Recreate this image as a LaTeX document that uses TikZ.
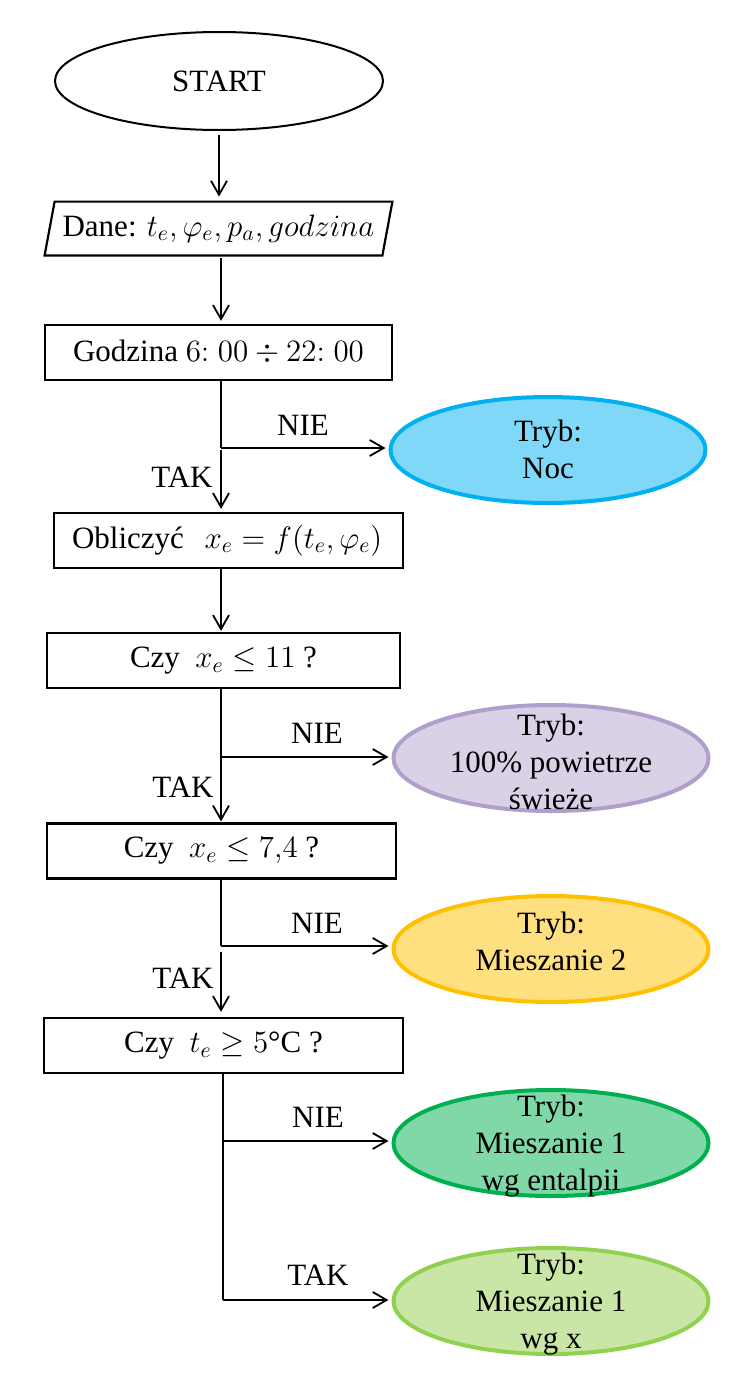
\RequirePackage{fix-cm}
\documentclass[tikz,border=0pt]{standalone}
\usepackage{fontspec}
\setmainfont{Liberation Serif}
\usetikzlibrary{shapes.geometric,arrows.meta}
\definecolor{nocF}{HTML}{80D8F8}\definecolor{nocD}{HTML}{00B0F0}
\definecolor{purF}{HTML}{DAD1E6}\definecolor{purD}{HTML}{AFA0CB}
\definecolor{yelF}{HTML}{FFE080}\definecolor{yelD}{HTML}{FFC000}
\definecolor{grnF}{HTML}{80D8A8}\definecolor{grnD}{HTML}{00B050}
\definecolor{lgrF}{HTML}{C9E6A6}\definecolor{lgrD}{HTML}{92D050}
\begin{document}
\begin{tikzpicture}[x=0.5pt,y=-0.5pt,
  every node/.style={font=\fontsize{15.5}{18.5}\selectfont},
  box/.style={draw, line width=1.1pt, rectangle, minimum height=27.5pt, inner sep=0pt},
  mode/.style={ellipse, line width=2pt, minimum width=157.5pt, minimum height=53pt, inner sep=0pt},
  modetext/.style={align=center, inner sep=0pt},
  lbl/.style={inner sep=0pt},
  wire/.style={line width=0.9pt},
  conn/.style={line width=0.9pt, -{Straight Barb[length=7pt,width=8pt]}}]
\useasboundingbox[fill=white] (0,0) rectangle (741,1376);
% main column
\node[ellipse, draw, line width=1pt, minimum width=164pt, minimum height=49pt, inner sep=0pt] (start) at (219,81) {START};
\node[minimum width=168.5pt, minimum height=26.5pt, inner sep=0pt] (dane) at (218.5,228.5) {Dane: $t_e,\varphi_e,p_a,godzina$};
\draw[line width=1.1pt] ([xshift=2.5pt]dane.north west) -- ([xshift=2.5pt]dane.north east) -- ([xshift=-2.5pt]dane.south east) -- ([xshift=-2.5pt]dane.south west) -- cycle;
\node[box, minimum width=173.5pt] (god) at (218.5,352.5) {Godzina $6{:}\;00 \div 22{:}\;00$};
\node[box, text width=156.5pt, inner xsep=9pt, align=left] (obl) at (228.5,540.5) {Obliczyć\ \ $x_e = f(t_e,\varphi_e)$};
\node[box, minimum width=176.5pt] (czy1) at (223.5,660.5) {Czy\ \ $x_e \le 11$ ?};
\node[box, minimum width=174.5pt] (czy2) at (221.5,851) {Czy\ \ $x_e \le 7{,}4$ ?};
\node[box, minimum width=179.5pt] (czy3) at (223.5,1045.5) {Czy\ \ $t_e \ge 5$°C ?};
% mode ellipses
\node[mode, draw=nocD, fill=nocF] (noc) at (548,450) {};
\node[modetext] (nocT) at (548,449) {Tryb:\\Noc};
\node[mode, draw=purD, fill=purF] (fresh) at (551,758) {};
\node[modetext] (freshT) at (551,762) {Tryb:\\100\% powietrze\\świeże};
\node[mode, draw=yelD, fill=yelF] (mix2) at (551,949) {};
\node[modetext] (mix2T) at (551,941) {Tryb:\\Mieszanie 2};
\node[mode, draw=grnD, fill=grnF] (mixe) at (551,1143) {};
\node[modetext] (mixeT) at (551,1146) {Tryb:\\Mieszanie 1\\wg entalpii};
\node[mode, draw=lgrD, fill=lgrF] (mixx) at (551,1301) {};
\node[modetext] (mixxT) at (551,1304) {Tryb:\\Mieszanie 1\\wg x};
% branch points
\coordinate (b1) at (221,448);
\coordinate (b2) at (221,757);
\coordinate (b3) at (221,946);
\coordinate (b4) at (223,1141);
\coordinate (b5) at (223,1300);
% connectors
\draw[conn, shorten <=2pt, shorten >=2.5pt] (start.south) -- (start.south |- dane.north);
\draw[conn, shorten <=1.5pt, shorten >=1.5pt] (dane.south -| b1) -- (b1 |- god.north);
\draw[wire] (b1 |- god.south) -- (b1);
\draw[conn, shorten >=1.5pt] (b1) -- (b1 -| noc.west);
\draw[conn, shorten <=1pt, shorten >=1.5pt] (b1) -- (b1 |- obl.north);
\draw[conn, shorten >=0.5pt] (obl.south -| b1) -- (b1 |- czy1.north);
\draw[wire] (b2 |- czy1.south) -- (b2);
\draw[conn, shorten >=1.5pt] (b2) -- (b2 -| fresh.west);
\draw[conn, shorten >=0.5pt] (b2) -- (b2 |- czy2.north);
\draw[wire] (b3 |- czy2.south) -- (b3);
\draw[conn, shorten >=1.5pt] (b3) -- (b3 -| mix2.west);
\draw[conn, shorten <=3pt, shorten >=2.5pt] (b3) -- (b3 |- czy3.north);
\draw[wire] (b4 |- czy3.south) -- (b5);
\draw[conn, shorten >=1.5pt] (b4) -- (b4 -| mixe.west);
\draw[conn, shorten >=1.5pt] (b5) -- (b5 -| mixx.west);
% labels
\node[lbl] (nie1) at (303,425) {NIE};
\node[lbl] (tak1) at (182,477) {TAK};
\node[lbl] (nie2) at (317,733) {NIE};
\node[lbl] (tak2) at (183,787) {TAK};
\node[lbl] (nie3) at (317,923) {NIE};
\node[lbl] (tak3) at (183,978) {TAK};
\node[lbl] (nie4) at (318,1117) {NIE};
\node[lbl] (tak4) at (318,1275) {TAK};
\end{tikzpicture}
\end{document}
